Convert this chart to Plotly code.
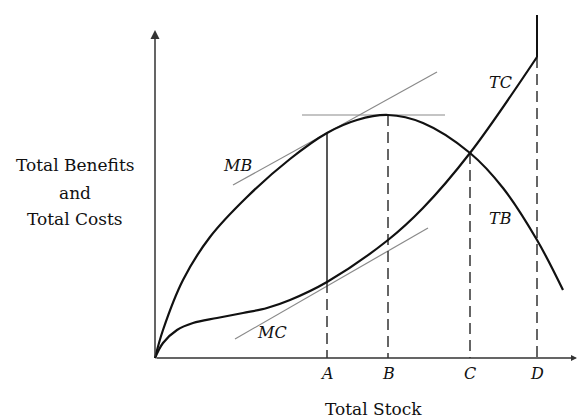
import plotly.graph_objects as go

# ---- data (arbitrary units) ----
tb_x = [0, 0.2, 0.7, 1.375, 2.3, 3.375, 4.3, 5.05, 5.825, 6.7, 7.875, 8.7, 9.55, 10.2]
tb_y = [0, 0.7, 1.95, 3.025, 4.025, 4.975, 5.625, 5.95, 6.075, 5.875, 5.125, 4.25, 2.95, 1.7]

tc_x = [0, 0.2, 0.55, 0.95, 1.55, 2.2, 2.8, 3.375, 4.3, 5.825, 6.7, 7.875, 9.55]
tc_y = [0, 0.375, 0.7, 0.875, 1.0, 1.125, 1.25, 1.45, 1.9, 2.95, 3.75, 5.125, 7.525]

mb_x = [1.95, 7.05]
mb_y = [4.325, 7.15]
mc_x = [2.0, 6.825]
mc_y = [0.475, 3.25]
flat_x = [3.675, 7.25]
flat_y = [6.075, 6.075]

stock_labels = ["A", "B", "C", "D"]
stock_x = [4.3, 5.825, 7.875, 9.55]
stock_top = [1.9, 6.075, 5.125, 7.525]   # dashed part starts here and runs to 0
solid_A = [5.625, 1.9]
solid_D = [8.575, 7.525]

y_axis_top = 8.2
x_axis_end = 10.55

FONT = "DejaVu Serif"
INK = "#111111"

fig = go.Figure()

# tangent lines (thin grey)
for xs, ys in [(mb_x, mb_y), (mc_x, mc_y), (flat_x, flat_y)]:
    fig.add_trace(go.Scatter(x=xs, y=ys, mode="lines",
                             line=dict(color="#8a8a8a", width=1.2), hoverinfo="skip"))

# dashed verticals
for sx, top in zip(stock_x, stock_top):
    fig.add_trace(go.Scatter(x=[sx, sx], y=[top, 0], mode="lines",
                             line=dict(color="#333333", width=1.5, dash="11px,6px"),
                             hoverinfo="skip"))
# solid verticals
fig.add_trace(go.Scatter(x=[stock_x[0], stock_x[0]], y=solid_A, mode="lines",
                         line=dict(color=INK, width=1.4), hoverinfo="skip"))
fig.add_trace(go.Scatter(x=[stock_x[3], stock_x[3]], y=solid_D, mode="lines",
                         line=dict(color=INK, width=2), hoverinfo="skip"))

# curves
fig.add_trace(go.Scatter(x=tb_x, y=tb_y, mode="lines", line_shape="spline",
                         line=dict(color=INK, width=2.2), hoverinfo="skip"))
fig.add_trace(go.Scatter(x=tc_x, y=tc_y, mode="lines", line_shape="spline",
                         line=dict(color=INK, width=2.2), hoverinfo="skip"))

# axes with arrows
fig.add_annotation(x=0, y=y_axis_top, ax=0, ay=0, xref="x", yref="y", axref="x", ayref="y",
                   text="", showarrow=True, arrowhead=2, arrowsize=1.2, arrowwidth=1.5,
                   arrowcolor="#333333")
fig.add_annotation(x=x_axis_end, y=0, ax=0, ay=0, xref="x", yref="y", axref="x", ayref="y",
                   text="", showarrow=True, arrowhead=2, arrowsize=0.8, arrowwidth=1.5,
                   arrowcolor="#333333")

# text labels
for lab, sx in zip(stock_labels, stock_x):
    fig.add_annotation(x=sx, y=-0.375, text=f"<i>{lab}</i>", showarrow=False,
                       font=dict(family=FONT, size=16, color=INK))
fig.add_annotation(x=5.45, y=-1.275, text="Total Stock", showarrow=False,
                   font=dict(family=FONT, size=17, color=INK))
for txt, yy in [("Total Benefits", 4.825), ("and", 4.125), ("Total Costs", 3.475)]:
    fig.add_annotation(x=-2.0, y=yy, text=txt, showarrow=False,
                       font=dict(family=FONT, size=17, color=INK))
for txt, xx, yy in [("MB", 2.05, 4.825), ("MC", 2.925, 0.65), ("TC", 8.625, 6.9), ("TB", 8.625, 3.5)]:
    fig.add_annotation(x=xx, y=yy, text=f"<i>{txt}</i>", showarrow=False,
                       font=dict(family=FONT, size=16, color=INK))

fig.update_layout(
    width=579, height=419,
    margin=dict(l=0, r=0, t=0, b=0),
    paper_bgcolor="white", plot_bgcolor="white",
    showlegend=False,
    xaxis=dict(range=[-3.875, 10.6], visible=False),
    yaxis=dict(range=[-1.525, 8.95], visible=False),
)

fig.write_html("out.html", config={"displayModeBar": False},
               post_script="document.body.style.margin='0px';document.body.style.overflow='hidden';")
